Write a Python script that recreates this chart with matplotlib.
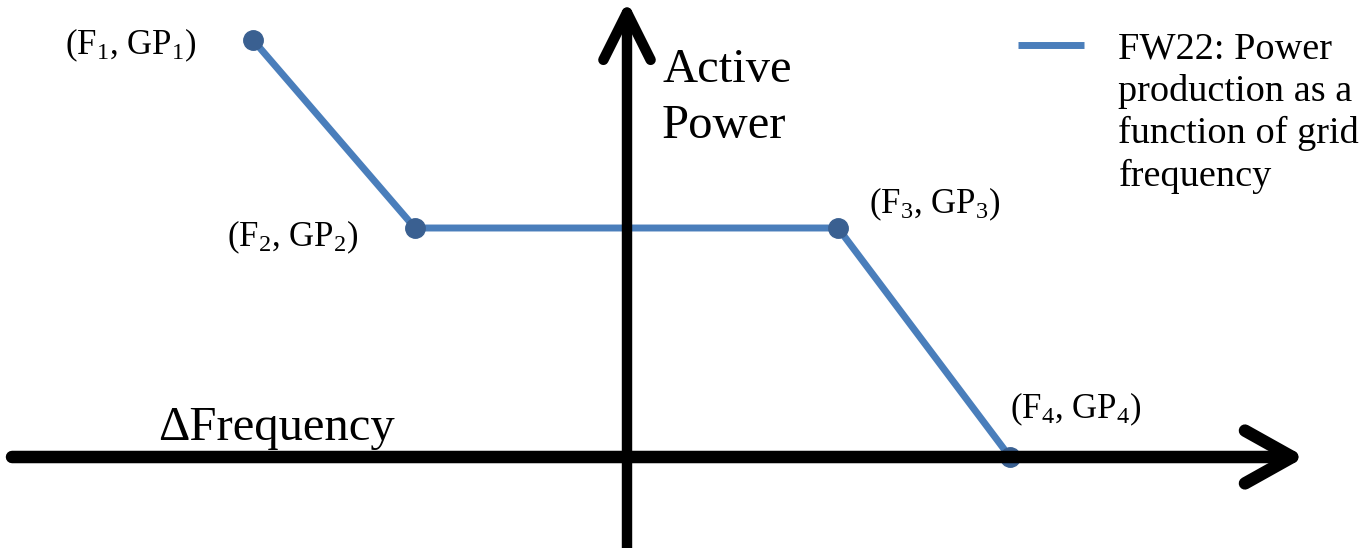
import matplotlib.pyplot as plt
import numpy as np

plt.rcParams['font.family'] = ['Liberation Serif', 'DejaVu Serif']
plt.rcParams['mathtext.fontset'] = 'custom'
plt.rcParams['mathtext.rm'] = 'Liberation Serif'
plt.rcParams['mathtext.default'] = 'regular'

# droop curve break points (frequency deviation, active power)
freq = [-3.72, -2.10, 2.13, 3.85]
power = [4.17, 2.29, 2.29, 0.0]
point_labels = [r'(F$_1$, GP$_1$)', r'(F$_2$, GP$_2$)',
                r'(F$_3$, GP$_3$)', r'(F$_4$, GP$_4$)']
label_offsets = [(-41, -4, 'right'), (-41, -7, 'right'),
                 (22, 17, 'left'), (0, 34, 'left')]
legend_label = 'FW22: Power\nproduction as a\nfunction of grid\nfrequency'

line_color = '#4a7ebb'
marker_color = '#3a6091'

fig = plt.figure(figsize=(13.7, 5.48), dpi=100)
ax = fig.add_axes([0, 0, 1, 1])
ax.set_xlim(-6.25, 7.45)
ax.set_ylim(-0.91, 4.57)
ax.axis('off')

# coordinate axes drawn as arrows
ax.annotate('', xy=(6.8, 0), xytext=(-6.13, 0),
            arrowprops=dict(arrowstyle='->,head_length=1.7,head_width=0.95',
                            lw=9, color='black', mutation_scale=20,
                            shrinkA=0, shrinkB=0, capstyle='round'))
ax.annotate('', xy=(0.02, 4.56), xytext=(0.02, -0.95),
            arrowprops=dict(arrowstyle='->,head_length=1.7,head_width=0.85',
                            lw=7.5, color='black', mutation_scale=20,
                            shrinkA=0, shrinkB=0, capstyle='round'))

ax.text(-4.67, 0.17, '\u0394Frequency', fontsize=35, ha='left', va='baseline')
ax.text(0.37, 3.19, 'Active\nPower', fontsize=35, ha='left', va='baseline',
        linespacing=1.34)

ax.plot(freq, power, color=line_color, lw=5, label=legend_label,
        solid_capstyle='butt')
ax.plot(freq, power, linestyle='None', marker='o', markersize=14,
        color=marker_color)

for f, p, lab, (dx, dy, ha) in zip(freq, power, point_labels, label_offsets):
    ax.annotate(lab, xy=(f, p), xytext=(dx, dy), textcoords='offset points',
                ha=ha, va='center', fontsize=25)

leg = ax.legend(loc='upper left', bbox_to_anchor=(0.7177, 1.005),
                frameon=False, fontsize=27.5, handlelength=1.73,
                handletextpad=0.91, labelspacing=0.2)
leg.get_texts()[0].set_linespacing(1.28)
# keep the legend line level with the first text line
for col in leg._legend_handle_box.get_children():
    for row in col.get_children():
        row.align = 'top'

fig.savefig('out.png', dpi=100)
